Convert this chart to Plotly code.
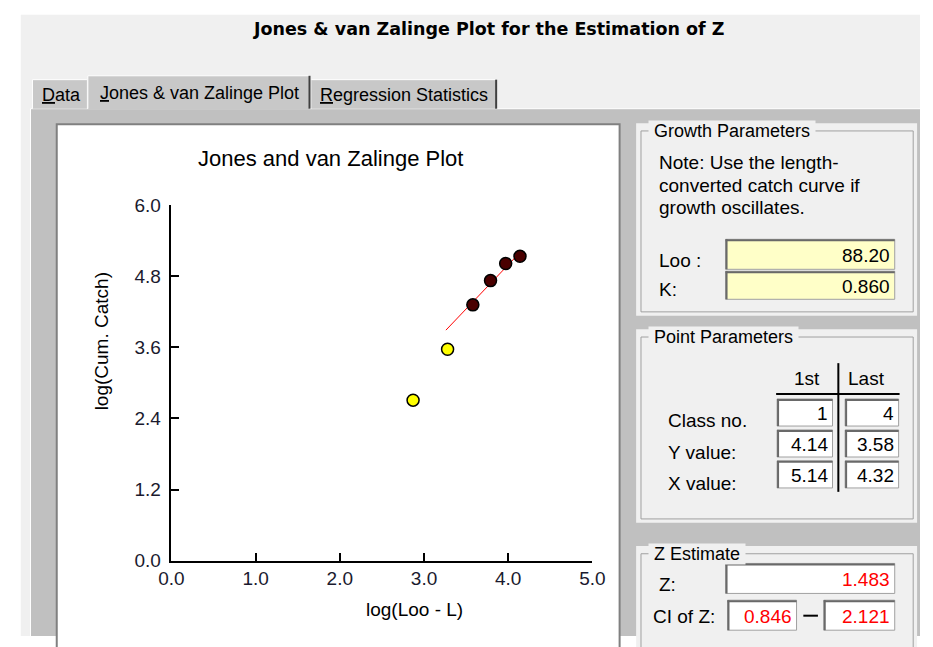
import numpy as np
import plotly.graph_objects as go

W, H = 933, 647

# ---- data ----
x_vals = [2.87, 3.28, 3.58, 3.79, 3.97, 4.14]   # log(Loo - L)
y_vals = [2.71, 3.57, 4.32, 4.73, 5.02, 5.14]   # log(Cum. Catch)
used_in_fit = [False, False, True, True, True, True]
fit_x_range = [3.26, 4.10]
x_ticks = [0.0, 1.0, 2.0, 3.0, 4.0, 5.0]
y_ticks = [0.0, 1.2, 2.4, 3.6, 4.8, 6.0]

loo_value = "88.20"
k_value = "0.860"
class_no = ["1", "4"]
y_value = ["4.14", "3.58"]
x_value = ["5.14", "4.32"]
z_value = "1.483"
ci_low, ci_high = "0.846", "2.121"

UI_FONT = "Liberation Sans"
FS = 19

def px(x):
    return x / W

def py(y):
    return 1 - y / H

shapes = []
annotations = []

def rect(x0, y0, x1, y1, fill, line_color=None, lw=0):
    shapes.append(dict(type="rect", xref="paper", yref="paper",
                       x0=px(x0), x1=px(x1), y0=py(y1), y1=py(y0),
                       fillcolor=fill,
                       line=dict(color=line_color or fill, width=lw),
                       layer="below"))

def line(x0, y0, x1, y1, color, lw=1):
    shapes.append(dict(type="line", xref="paper", yref="paper",
                       x0=px(x0), x1=px(x1), y0=py(y0), y1=py(y1),
                       line=dict(color=color, width=lw), layer="below"))

def text(x, y, s, size=FS, color="#000", xanchor="left", bold=False, bg=None, angle=0, family=UI_FONT):
    a = dict(xref="paper", yref="paper", x=px(x), y=py(y), text=("<b>%s</b>" % s) if bold else s,
             showarrow=False, xanchor=xanchor, yanchor="middle",
             font=dict(family=family, size=size, color=color), textangle=angle)
    if bg:
        a["bgcolor"] = bg
        a["borderpad"] = 0
    annotations.append(a)

def textbox(x0, y0, x1, y1, value, fill="#ffffff", color="#000"):
    rect(x0, y0, x1, y1, fill, "#a0a0a0", 1)
    line(x0, y0 + 1, x1, y0 + 1, "#696969", 2)
    line(x0 + 1, y0, x0 + 1, y1, "#696969", 2)
    text(x1 - 3, (y0 + y1) / 2 + 1, value, color=color, xanchor="right")

# ---- window background ----
rect(8, 5, 933, 647, "#f0f0f0")
text(490, 20, "Jones &amp; van Zalinge Plot for the Estimation of Z", size=17.5,
     xanchor="center", bold=True, family="DejaVu Sans")

# tab panel
rect(18, 102, 933, 647, "#c0c0c0")
line(18, 102, 933, 102, "#ffffff", 1)
line(18, 102, 18, 647, "#ffffff", 1)

# tabs
rect(20, 72, 76, 102, "#c8c8c8")
line(20, 72, 76, 72, "#ffffff", 1)
line(20, 72, 20, 102, "#ffffff", 1)
rect(307, 72, 497, 102, "#c8c8c8")
line(307, 72, 497, 72, "#ffffff", 1)
line(497, 72, 497, 102, "#404040", 2)
rect(77, 68, 305, 103, "#c8c8c8")
line(77, 68, 305, 68, "#ffffff", 1)
line(77, 68, 77, 102, "#ffffff", 1)
line(305, 68, 305, 102, "#404040", 2)
text(28, 88, "<u>D</u>ata", size=18)
text(87, 86, "<u>J</u>ones &amp; van Zalinge Plot", size=18)
text(314, 88, "<u>R</u>egression Statistics", size=18)

# plot panel
rect(45, 118, 624, 660, "#ffffff", "#808080", 2)

# ---- right column group boxes ----
def groupbox(y0, y1, label):
    rect(641, y0 - 8, 930, y1, "#f0f0f0")
    shapes.append(dict(type="rect", xref="paper", yref="paper",
                       x0=px(646), x1=px(926), y0=py(y1 - 4), y1=py(y0),
                       line=dict(color="#a0a0a0", width=1), layer="below"))
    text(653, y0, "&nbsp;" + label + "&nbsp;", size=18, bg="#f0f0f0")

groupbox(125, 316, "Growth Parameters")
text(662, 158, "Note: Use the length-")
text(662, 181, "converted catch curve if")
text(662, 204, "growth oscillates.")
text(662, 259, "Loo :")
text(662, 289, "K:")
textbox(733, 237, 907, 268, loo_value, fill="#ffffc8")
textbox(733, 270, 907, 299, k_value, fill="#ffffc8")

groupbox(338, 530, "Point Parameters")
text(817, 381, "1st", xanchor="center")
text(878, 381, "Last", xanchor="center")
line(849, 365, 849, 498, "#000000", 2)
line(785, 397, 912, 397, "#000000", 2)
text(672, 424, "Class no.")
text(672, 457, "Y value:")
text(672, 489, "X value:")
rows = [(402, 430, class_no), (434, 462, y_value), (466, 494, x_value)]
for y0, y1, vals in rows:
    textbox(786, y0, 843, y1, vals[0])
    textbox(856, y0, 911, y1, vals[1])

groupbox(562, 680, "Z Estimate")
text(662, 594, "Z:")
text(656, 627, "CI of Z:")
textbox(733, 572, 907, 603, z_value, color="#ff0000")
textbox(735, 610, 806, 641, ci_low, color="#ff0000")
textbox(834, 610, 907, 641, ci_high, color="#ff0000")
line(813, 626, 828, 626, "#000000", 2)

# ---- chart ----
xs = np.array(x_vals)
ys = np.array(y_vals)
mask = np.array(used_in_fit)
slope, intercept = np.polyfit(xs[mask], ys[mask], 1)
fx = np.array(fit_x_range)
fy = slope * fx + intercept

fig = go.Figure()
fig.add_trace(go.Scatter(x=fx, y=fy, mode="lines", line=dict(color="#ff0000", width=1),
                         showlegend=False, hoverinfo="skip"))
fig.add_trace(go.Scatter(x=xs[~mask], y=ys[~mask], mode="markers",
                         marker=dict(size=12, color="#ffff00", line=dict(color="#000", width=1.5)),
                         showlegend=False))
fig.add_trace(go.Scatter(x=xs[mask], y=ys[mask], mode="markers",
                         marker=dict(size=12, color="#4a0000", line=dict(color="#000", width=1.5)),
                         showlegend=False))

text(327, 153, "Jones and van Zalinge Plot", size=22, xanchor="center")
text(413, 620, "log(Loo - L)", size=19, xanchor="center")
text(91, 342, "log(Cum. Catch)", size=19, xanchor="center", angle=-90)

x_l, x_r = 163, 596
y_t, y_b = 202, 569

fig.update_layout(
    width=W, height=H,
    margin=dict(l=0, r=0, t=0, b=0),
    paper_bgcolor="#ffffff",
    plot_bgcolor="rgba(0,0,0,0)",
    shapes=shapes,
    annotations=annotations,
    xaxis=dict(domain=[px(x_l), px(x_r)], range=[0, 5], tickvals=x_ticks,
               ticktext=["%.1f" % v for v in x_ticks],
               showline=True, linecolor="#000", linewidth=1.5, mirror=False,
               ticks="inside", ticklen=8, tickwidth=1.5, tickcolor="#000",
               showgrid=False, zeroline=False,
               tickfont=dict(family=UI_FONT, size=19, color="#1a1a2e")),
    yaxis=dict(domain=[py(y_b), py(y_t)], range=[0, 6], tickvals=y_ticks,
               ticktext=["%.1f" % v for v in y_ticks],
               showline=True, linecolor="#000", linewidth=1.5,
               ticks="inside", ticklen=8, tickwidth=1.5, tickcolor="#000",
               showgrid=False, zeroline=False, ticklabelstandoff=5,
               tickfont=dict(family=UI_FONT, size=19, color="#1a1a2e")),
)

fig.write_html("out.html", config={"displayModeBar": False},
               post_script="document.body.style.margin='0';document.body.style.overflow='hidden';")
